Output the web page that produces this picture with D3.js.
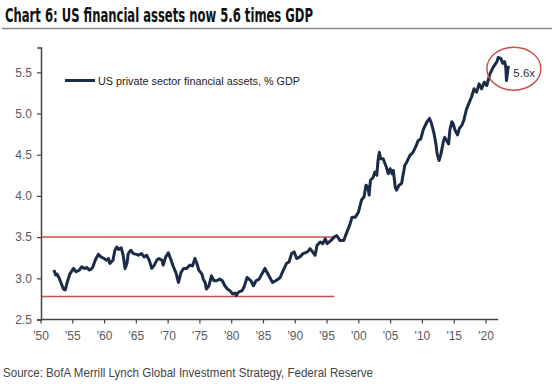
<!DOCTYPE html>
<html>
<head>
<meta charset="utf-8">
<script src="https://cdn.jsdelivr.net/npm/d3@7"></script>
<style>
  body { margin: 0; background: #fff; }
  svg { display: block; }
</style>
</head>
<body>
<script>
// size of the picture
var w = 552;
var h = 384;

// data (x = position on the chart's year axis)
var years = [1952.1, 1952.4, 1952.6, 1952.9, 1953.2, 1953.6, 1953.9, 1954.2, 1954.6, 1955.2,
             1955.6, 1956.1, 1956.5, 1956.9, 1957.3, 1957.7, 1958.1, 1958.3, 1958.6, 1959.1,
             1959.5, 1960.0, 1960.4, 1960.7, 1960.9, 1961.4, 1961.7, 1962.0, 1962.3, 1962.7,
             1963.0, 1963.3, 1963.6, 1963.8, 1964.2, 1964.6, 1965.1, 1965.4, 1965.9, 1966.3,
             1966.7, 1967.1, 1967.5, 1967.9, 1968.3, 1968.6, 1969.1, 1969.3, 1969.7, 1970.1,
             1970.5, 1970.9, 1971.3, 1971.7, 1972.1, 1972.5, 1973.0, 1973.5, 1973.9, 1974.3,
             1974.6, 1974.9, 1975.4, 1975.6, 1975.9, 1976.1, 1976.5, 1976.9, 1977.3, 1977.7,
             1978.2, 1978.6, 1979.0, 1979.4, 1979.8, 1980.2, 1980.6, 1980.8, 1981.1, 1981.7,
             1982.0, 1982.5, 1983.1, 1983.5, 1983.9, 1984.4, 1984.8, 1985.3, 1985.8, 1986.5,
             1987.2, 1987.7, 1988.2, 1988.7, 1989.1, 1989.5, 1989.9, 1990.3, 1990.8, 1991.3,
             1992.0, 1992.4, 1992.8, 1993.2, 1993.5, 1994.0, 1994.4, 1994.8, 1995.1, 1995.7,
             1996.2, 1996.6, 1997.1, 1997.7, 1998.2, 1998.7, 1999.0, 1999.5, 2000.0, 2000.5,
             2000.9, 2001.2, 2001.5, 2001.7, 2001.9, 2002.3, 2002.6, 2002.9, 2003.1, 2003.3,
             2003.5, 2003.9, 2004.4, 2004.7, 2005.0, 2005.3, 2005.5, 2005.8, 2006.0, 2006.4,
             2006.8, 2007.3, 2007.6, 2008.1, 2008.6, 2009.1, 2009.4, 2009.8, 2010.2, 2010.8,
             2011.2, 2011.5, 2011.9, 2012.2, 2012.4, 2012.7, 2013.0, 2013.4, 2013.6, 2013.9,
             2014.2, 2014.4, 2014.7, 2014.9, 2015.2, 2015.6, 2015.9, 2016.3, 2016.6, 2017.0,
             2017.8, 2018.2, 2018.6, 2019.0, 2019.4, 2019.8, 2020.2, 2020.7, 2021.2, 2021.8,
             2022.0, 2022.4, 2022.7, 2023.0, 2023.2, 2023.3, 2023.6];
var assets = [3.10, 3.04, 3.05, 3.01, 2.95, 2.87, 2.86, 2.95, 3.05, 3.12,
              3.08, 3.10, 3.14, 3.12, 3.13, 3.10, 3.12, 3.15, 3.22, 3.29,
              3.26, 3.24, 3.22, 3.24, 3.18, 3.22, 3.34, 3.38, 3.35, 3.37,
              3.28, 3.12, 3.18, 3.30, 3.34, 3.30, 3.29, 3.28, 3.30, 3.26,
              3.28, 3.22, 3.12, 3.16, 3.22, 3.24, 3.22, 3.16, 3.26, 3.31,
              3.23, 3.14, 3.07, 2.95, 3.07, 3.12, 3.12, 3.16, 3.15, 3.24,
              3.18, 3.10, 3.05, 2.99, 2.95, 2.87, 2.91, 3.03, 2.97, 2.97,
              2.99, 2.97, 2.91, 2.87, 2.85, 2.81, 2.82, 2.79, 2.83, 2.85,
              2.89, 3.01, 2.97, 2.91, 2.97, 2.99, 3.05, 3.12, 3.05, 2.95,
              2.98, 3.01, 3.10, 3.18, 3.20, 3.30, 3.32, 3.24, 3.26, 3.30,
              3.32, 3.36, 3.32, 3.28, 3.40, 3.44, 3.42, 3.48, 3.42, 3.46,
              3.50, 3.52, 3.46, 3.46, 3.56, 3.66, 3.74, 3.74, 3.80, 3.95,
              3.99, 4.13, 4.11, 4.01, 4.19, 4.22, 4.29, 4.25, 4.43, 4.53,
              4.45, 4.45, 4.35, 4.27, 4.33, 4.27, 4.31, 4.11, 4.07, 4.13,
              4.15, 4.37, 4.41, 4.49, 4.53, 4.61, 4.67, 4.69, 4.80, 4.90,
              4.94, 4.88, 4.76, 4.63, 4.51, 4.43, 4.51, 4.67, 4.71, 4.67,
              4.63, 4.80, 4.90, 4.88, 4.80, 4.74, 4.82, 4.86, 4.92, 5.05,
              5.20, 5.30, 5.26, 5.36, 5.30, 5.38, 5.34, 5.48, 5.56, 5.63,
              5.68, 5.67, 5.61, 5.63, 5.56, 5.40, 5.58];

var xTicks = [1950, 1955, 1960, 1965, 1970, 1975, 1980, 1985, 1990, 1995, 2000, 2005, 2010, 2015, 2020];
var yTicks = [2.5, 3.0, 3.5, 4.0, 4.5, 5.0, 5.5];
var rangeLevels = [3.5, 2.78];   // red horizontal lines
var rangeEnd = 1996.2;
var lastLabel = "5.6x";

var title = "Chart 6: US financial assets now 5.6 times GDP";
var legendLabel = "US private sector financial assets, % GDP";
var source = "Source: BofA Merrill Lynch Global Investment Strategy, Federal Reserve";

var font = "'Liberation Sans', Arial, sans-serif";

// scales
var xScale = d3.scaleLinear()
               .domain([1950, 2022])
               .range([40.5, 498.2]);

var yScale = d3.scaleLinear()
               .domain([2.5, 5.8])
               .range([319.5, 47.6]);

var svg = d3.select("body")
            .append("svg")
            .attr("width", w)
            .attr("height", h)
            .style("background", "#fff");

// title + rule
svg.append("text")
   .attr("x", 5)
   .attr("y", 21.5)
   .attr("font-family", "'Liberation Sans Narrow', 'DejaVu Sans Condensed', 'Arial Narrow', sans-serif")
   .attr("font-weight", "bold")
   .attr("font-size", "20px")
   .attr("fill", "#111")
   .attr("textLength", 308)
   .attr("lengthAdjust", "spacingAndGlyphs")
   .text(title);

svg.append("line")
   .attr("x1", 2).attr("x2", w)
   .attr("y1", 28.5).attr("y2", 28.5)
   .attr("stroke", "#8c8c8c")
   .attr("stroke-width", 1.5);

// axes
var yAxis = d3.axisLeft(yScale)
              .tickValues(yTicks)
              .tickSize(4)
              .tickPadding(5)
              .tickFormat(d3.format(".1f"));

var xAxis = d3.axisBottom(xScale)
              .tickValues(xTicks)
              .tickSize(4)
              .tickPadding(8)
              .tickFormat(function(d) { return "'" + String(d).slice(2); });

var gy = svg.append("g")
            .attr("transform", "translate(41,0)")
            .call(yAxis);

var gx = svg.append("g")
            .attr("transform", "translate(0," + yScale(2.5) + ")")
            .call(xAxis);

[gx, gy].forEach(function(g) {
  g.select(".domain").attr("stroke", "#444").attr("stroke-width", 1.5);
  g.selectAll(".tick line").attr("stroke", "#444").attr("stroke-width", 1.2);
  g.selectAll(".tick text")
   .attr("font-family", font)
   .attr("font-size", "12px")
   .attr("fill", "#5a5a5a");
});
gx.select(".domain").attr("d", "M41,0H498.2");

// red range lines
svg.selectAll("line.level")
   .data(rangeLevels)
   .enter()
   .append("line")
   .attr("class", "level")
   .attr("x1", 42)
   .attr("x2", xScale(rangeEnd))
   .attr("y1", function(d) { return yScale(d); })
   .attr("y2", function(d) { return yScale(d); })
   .attr("stroke", "#c9504c")
   .attr("stroke-width", 1.5);

// series line
var line = d3.line()
             .x(function(d, i) { return xScale(years[i]); })
             .y(function(d) { return yScale(d); });

svg.append("path")
   .datum(assets)
   .attr("d", line)
   .attr("fill", "none")
   .attr("stroke", "#1b2b48")
   .attr("stroke-width", 3)
   .attr("stroke-linejoin", "round");

// legend
svg.append("line")
   .attr("x1", 65).attr("x2", 95)
   .attr("y1", 80.5).attr("y2", 80.5)
   .attr("stroke", "#1b2b48")
   .attr("stroke-width", 3);

svg.append("text")
   .attr("x", 98)
   .attr("y", 84.5)
   .attr("font-family", font)
   .attr("font-size", "11.5px")
   .attr("fill", "#222")
   .attr("textLength", 202)
   .attr("lengthAdjust", "spacingAndGlyphs")
   .text(legendLabel);

// 5.6x callout
var last = assets.length - 1;
svg.append("ellipse")
   .attr("cx", xScale(years[last]) + 5.5)
   .attr("cy", yScale(assets[last]) + 3)
   .attr("rx", 27)
   .attr("ry", 21.5)
   .attr("fill", "none")
   .attr("stroke", "#c9504c")
   .attr("stroke-width", 1.5);

svg.append("text")
   .attr("x", xScale(years[last]) + 5)
   .attr("y", yScale(assets[last]) + 11.5)
   .attr("font-family", font)
   .attr("font-size", "11.5px")
   .attr("fill", "#333")
   .text(lastLabel);

// source
svg.append("text")
   .attr("x", 3)
   .attr("y", 377)
   .attr("font-family", font)
   .attr("font-size", "12.5px")
   .attr("fill", "#444")
   .attr("textLength", 370)
   .attr("lengthAdjust", "spacingAndGlyphs")
   .text(source);
</script>
</body>
</html>
